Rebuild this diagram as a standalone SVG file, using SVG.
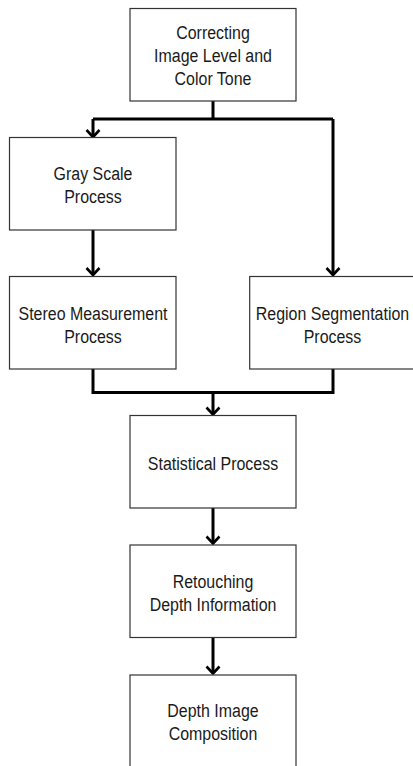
<svg xmlns="http://www.w3.org/2000/svg" width="413" height="766" viewBox="0 0 413 766">
<defs>
<style>
.box{fill:#fff;stroke:#333;stroke-width:1.2}
.lbl{font-family:"Liberation Sans",Arial,sans-serif;font-size:19px;fill:#1a1a1a;text-anchor:middle}
.wire{fill:none;stroke:#000;stroke-width:3;stroke-linejoin:miter}
.head{fill:none;stroke:#000;stroke-width:2.6}
</style>
</defs>
<rect width="413" height="766" fill="#fff"/>
<g id="connectors">
<path class="wire" d="M213,101 V119 M93,119 H333 M93,119 V136 M333,119 V275"/>
<path class="wire" d="M93,230 V275"/>
<path class="wire" d="M93,369 V392.5 H333 V369 M213,392.5 V414"/>
<path class="wire" d="M213,508 V543"/>
<path class="wire" d="M213,637.5 V673"/>
<path class="head" d="M86.5,130 L93,137 L99.5,130"/>
<path class="head" d="M86.5,268 L93,275 L99.5,268"/>
<path class="head" d="M326.5,268 L333,275 L339.5,268"/>
<path class="head" d="M206.5,407.5 L213,414.5 L219.5,407.5"/>
<path class="head" d="M206.5,536.5 L213,543.5 L219.5,536.5"/>
<path class="head" d="M206.5,666.5 L213,673.5 L219.5,666.5"/>
</g>
<g id="n1"><rect class="box" x="130" y="8.5" width="166" height="92.5"/>
<g transform="translate(213 0) scale(0.84 1)"><text class="lbl" x="0" y="39.5">Correcting</text><text class="lbl" x="0" y="62.5">Image Level and</text><text class="lbl" x="0" y="85.5">Color Tone</text></g></g>
<g id="n2"><rect class="box" x="9.5" y="137.5" width="166.5" height="92.5"/>
<g transform="translate(93 0) scale(0.84 1)"><text class="lbl" x="0" y="180.5">Gray Scale</text><text class="lbl" x="0" y="203.5">Process</text></g></g>
<g id="n3"><rect class="box" x="9.5" y="276.5" width="166.5" height="92.5"/>
<g transform="translate(93 0) scale(0.84 1)"><text class="lbl" x="0" y="320">Stereo Measurement</text><text class="lbl" x="0" y="343">Process</text></g></g>
<g id="n4"><rect class="box" x="249.7" y="276.5" width="166.5" height="92.5"/>
<g transform="translate(332.5 0) scale(0.84 1)"><text class="lbl" x="0" y="320">Region Segmentation</text><text class="lbl" x="0" y="343">Process</text></g></g>
<g id="n5"><rect class="box" x="130" y="415.5" width="166" height="92.5"/>
<g transform="translate(213 0) scale(0.84 1)"><text class="lbl" x="0" y="470.5">Statistical Process</text></g></g>
<g id="n6"><rect class="box" x="130" y="545" width="166" height="92.5"/>
<g transform="translate(213 0) scale(0.84 1)"><text class="lbl" x="0" y="588.5">Retouching</text><text class="lbl" x="0" y="611.5">Depth Information</text></g></g>
<g id="n7"><rect class="box" x="130" y="675" width="166" height="92.5"/>
<g transform="translate(213 0) scale(0.84 1)"><text class="lbl" x="0" y="717.5">Depth Image</text><text class="lbl" x="0" y="740.5">Composition</text></g></g>
</svg>
